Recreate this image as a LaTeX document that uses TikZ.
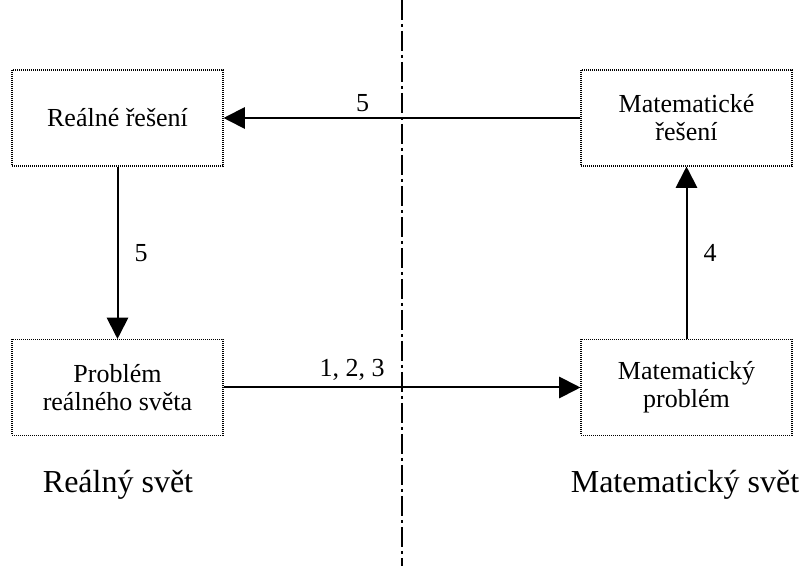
\documentclass[tikz,border=0pt]{standalone}
\usepackage{fontspec}
\setmainfont{Liberation Serif}
\usetikzlibrary{arrows.meta}

\tikzset{every picture/.style={line width=0.75pt}}
\tikzset{
  dotbox/.style={draw, line width=0.8pt, dash pattern=on 0.75pt off 0.75pt, minimum width=158.25pt, minimum height=72pt, inner sep=0pt, align=center, font=\fontsize{19.5}{21}\selectfont},
  conn/.style={line width=1.5pt, -{Triangle[length=16pt,width=16pt]}},
  lbl/.style={inner sep=0pt, font=\fontsize{19.5}{21}\selectfont},
  worldlbl/.style={inner sep=0pt, anchor=base, font=\fontsize{24}{28}\selectfont},
  divline/.style={line width=1.1pt, dash pattern=on 15pt off 3pt on 2.25pt off 3pt}
}

\begin{document}
\begin{tikzpicture}[x=0.75pt,y=0.75pt,yscale=-1,xscale=1]
\useasboundingbox (0,0) rectangle (801,566);

%Straight Lines [divider]
\coordinate (divtop) at (402,0);
\coordinate (divbot) at (402,566);
\draw [divline] (divtop) -- (divbot);

%Shape: Rectangle [real solution]
\node [dotbox] (realres) at (117.5,118) {Reálné řešení};
%Shape: Rectangle [math solution]
\node [dotbox] (mathres) at (686.5,118) {Matematické\\řešení};
%Shape: Rectangle [real problem]
\node [dotbox] (realprob) at (117.5,387.5) {Problém\\reálného světa};
%Shape: Rectangle [math problem]
\node [dotbox] (mathprob) at (686.5,387.5) {Matematický\\problém};

%Straight Lines
\draw [conn] (mathres) -- node [lbl, pos=0.61, above=4pt] {5} (realres);
%Straight Lines
\draw [conn] (realres) -- node [lbl, right=12pt] {5} (realprob);
%Straight Lines
\draw [conn] (realprob) -- node [lbl, pos=0.36, above=4.5pt] {1, 2, 3} (mathprob);
%Straight Lines
\draw [conn] (mathprob) -- node [lbl, right=12pt] {4} (mathres);

% Text Node
\node [worldlbl] (realworld) at (118,493) {Reálný svět};
% Text Node
\node [worldlbl] (mathworld) at (685,493) {Matematický svět};

\end{tikzpicture}
\end{document}
